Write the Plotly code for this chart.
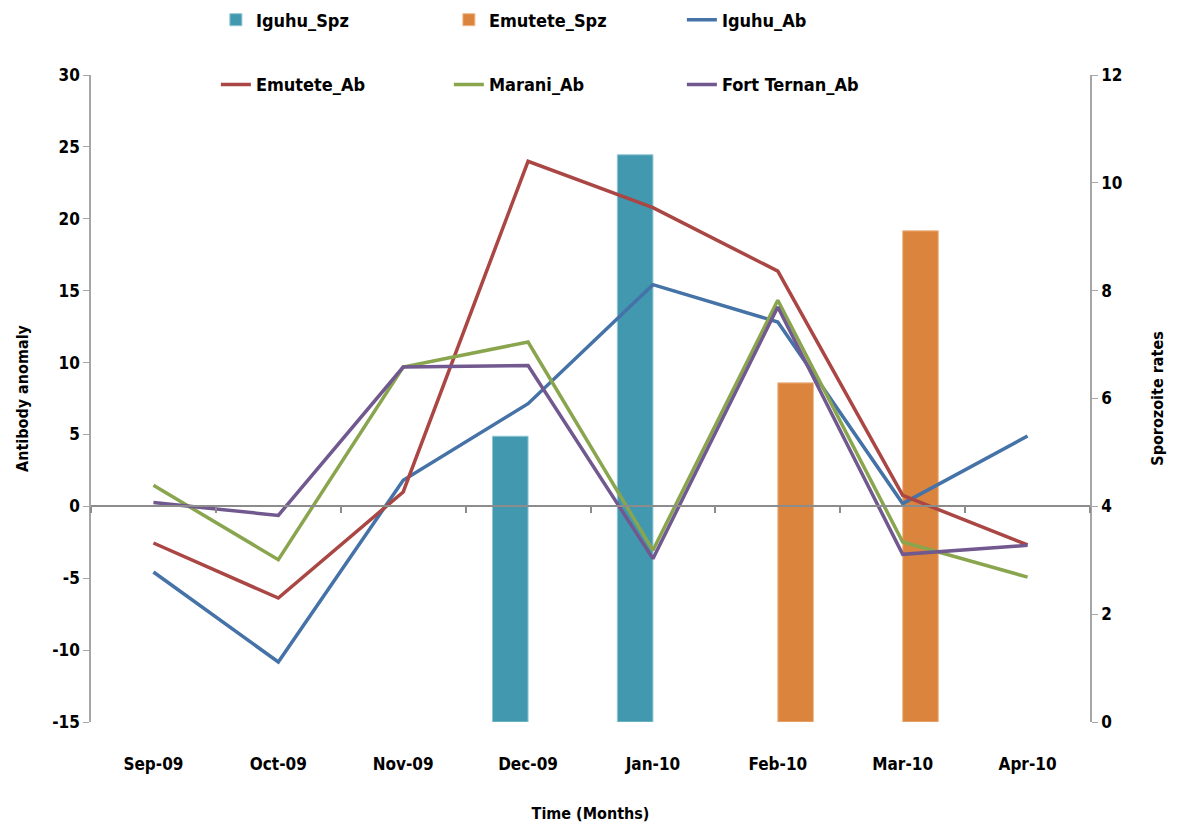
import plotly.graph_objects as go

# Monthly categories
months = ["Sep-09", "Oct-09", "Nov-09", "Dec-09", "Jan-10", "Feb-10", "Mar-10", "Apr-10"]

# Sporozoite rates (right axis)
iguhu_spz = [None, None, None, 5.30, 10.52, None, None, None]
emutete_spz = [None, None, None, None, None, 6.29, 9.11, None]

# Antibody anomaly (left axis)
iguhu_ab = [-4.57, -10.83, 1.81, 7.14, 15.42, 12.82, 0.19, 4.89]
emutete_ab = [-2.55, -6.38, 1.0, 24.0, 20.77, 16.36, 0.76, -2.68]
marani_ab = [1.46, -3.71, 9.69, 11.43, -3.06, 14.33, -2.48, -4.92]
fort_ternan_ab = [0.26, -0.63, 9.69, 9.8, -3.64, 13.86, -3.34, -2.71]

# Left axis ticks, written with a plain hyphen for negatives
ab_ticks = [-15, -10, -5, 0, 5, 10, 15, 20, 25, 30]
ab_tick_text = ["-15", "-10", "-5", "0", "5", "10", "15", "20", "25", "30"]

FONT = "DejaVu Sans Condensed, Liberation Sans Narrow, sans-serif"
AXIS_GREY = "#a6a6a6"

fig = go.Figure()

# Bars on the sporozoite axis (drawn first, underneath the lines)
fig.add_trace(go.Bar(x=months, y=iguhu_spz, name="Iguhu_Spz",
                     marker=dict(color="#4198AF", line=dict(color="#8fc6d4", width=1)),
                     legend="legend", xaxis="x", yaxis="y"))
fig.add_trace(go.Bar(x=months, y=emutete_spz, name="Emutete_Spz",
                     marker=dict(color="#DB843D", line=dict(color="#efb88b", width=1)),
                     legend="legend", xaxis="x", yaxis="y"))

# Antibody lines on the overlaid left axis; their x axis sits at zero anomaly
line_series = [
    ("Iguhu_Ab", iguhu_ab, "#4572A7", "legend"),
    ("Emutete_Ab", emutete_ab, "#AA4643", "legend2"),
    ("Marani_Ab", marani_ab, "#89A54E", "legend2"),
    ("Fort Ternan_Ab", fort_ternan_ab, "#71588F", "legend2"),
]
for name, vals, color, lg in line_series:
    fig.add_trace(go.Scatter(x=months, y=vals, name=name, mode="lines",
                             line=dict(color=color, width=3.5),
                             legend=lg, xaxis="x2", yaxis="y2"))

tick_font = dict(family=FONT, size=17, color="#000000", weight="bold")
title_font = dict(family=FONT, size=16, color="#000000", weight="bold")
legend_font = dict(family=FONT, size=18, color="#000000", weight="bold")

y_lo, y_hi = ab_ticks[0], ab_ticks[-1]

fig.update_layout(
    width=1179, height=831,
    margin=dict(l=91, r=89, t=75, b=109, autoexpand=False),
    paper_bgcolor="white", plot_bgcolor="white",
    barmode="group", bargap=0.43, bargroupgap=0,
    font=dict(family=FONT),
    xaxis=dict(
        type="category", categoryorder="array", categoryarray=months,
        range=[-0.5, 7.5], showline=False, showgrid=False, zeroline=False,
        ticks="", tickfont=tick_font, ticklabelstandoff=30,
        title=dict(text="Time (Months)", font=title_font, standoff=34),
    ),
    # Category axis line running along zero antibody anomaly
    xaxis2=dict(
        type="category", matches="x", overlaying="x", anchor="free",
        position=(0 - y_lo) / (y_hi - y_lo),
        showline=True, linecolor="#8c8c8c", linewidth=2,
        ticks="outside", ticklen=6, tickwidth=1.5, tickcolor="#8c8c8c",
        tickson="boundaries", showticklabels=False, showgrid=False, zeroline=False,
    ),
    yaxis=dict(
        side="right", range=[0, 12], dtick=2, tick0=0,
        showline=True, linecolor=AXIS_GREY, linewidth=1.5,
        ticks="outside", ticklen=6, tickcolor=AXIS_GREY,
        showgrid=False, zeroline=False, tickfont=tick_font,
        title=dict(text="Sporozoite rates", font=title_font, standoff=30),
    ),
    yaxis2=dict(
        overlaying="y", side="left", range=[y_lo, y_hi],
        tickmode="array", tickvals=ab_ticks, ticktext=ab_tick_text,
        showline=True, linecolor=AXIS_GREY, linewidth=1.5,
        ticks="outside", ticklen=6, tickcolor=AXIS_GREY,
        showgrid=False, zeroline=False, tickfont=tick_font,
        title=dict(text="Antibody anomaly", font=title_font, standoff=20),
    ),
    legend=dict(
        orientation="h", x=0.125, xanchor="left", y=1.085, yanchor="middle",
        entrywidth=188, entrywidthmode="pixels", font=legend_font,
        bgcolor="rgba(0,0,0,0)", itemwidth=30, traceorder="normal",
    ),
    legend2=dict(
        orientation="h", x=0.125, xanchor="left", y=0.985, yanchor="middle",
        entrywidth=188, entrywidthmode="pixels", font=legend_font,
        bgcolor="rgba(0,0,0,0)", itemwidth=30, traceorder="normal",
    ),
    showlegend=True,
)

fig.write_html("out.html")
